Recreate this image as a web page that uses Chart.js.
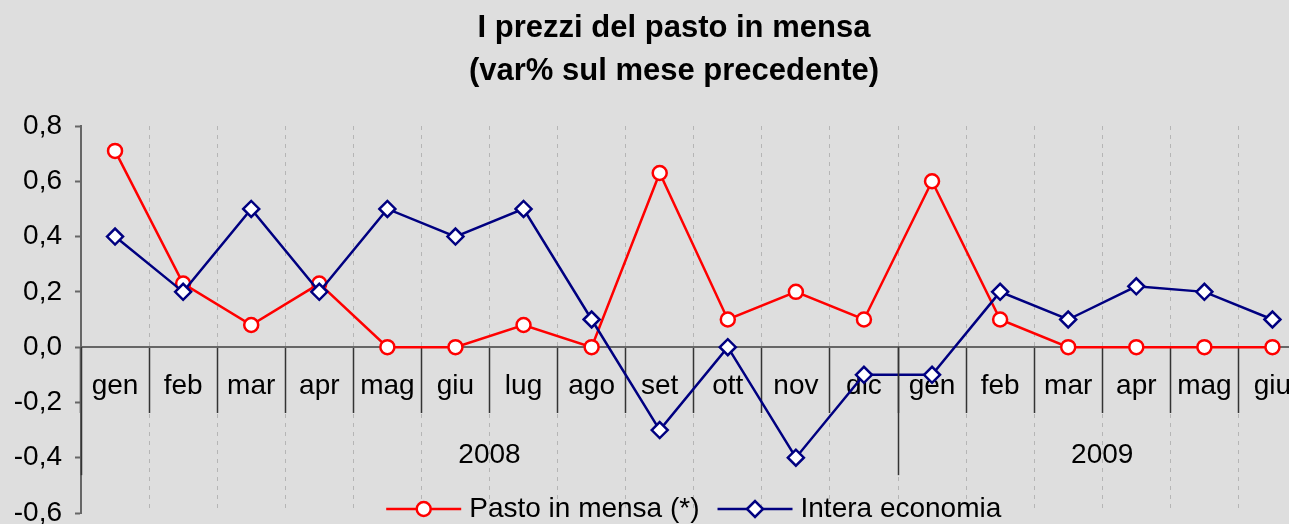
<!DOCTYPE html>
<html><head><meta charset="utf-8">
<script src="https://cdn.jsdelivr.net/npm/chart.js@4"></script>
<style>
html,body{margin:0;padding:0;overflow:hidden;background:#dedede;}
#wrap{width:1317px;height:524px;position:relative;}
</style></head>
<body><div id="wrap"><canvas id="c"></canvas></div>
<script>
// ---- data ----
const months = ['gen','feb','mar','apr','mag','giu','lug','ago','set','ott','nov','dic','gen','feb','mar','apr','mag','giu'];
const yearLabels = ['2008','2009'];
const yearSpans = [12, 6];
const pastoMensa = [0.71,0.23,0.08,0.23,0,0,0.08,0,0.63,0.1,0.2,0.1,0.6,0.1,0,0,0,0];
const interaEconomia = [0.4,0.2,0.5,0.2,0.5,0.4,0.5,0.1,-0.3,0,-0.4,-0.1,-0.1,0.2,0.1,0.22,0.2,0.1];
const seriesNames = ['Pasto in mensa (*)','Intera economia'];
const titleLines = ['I prezzi del pasto in mensa','(var% sul mese precedente)'];
const yMin = -0.6, yMax = 0.8, yStep = 0.2;

const FONT = "'Liberation Sans', Arial, sans-serif";
const RED = '#ff0000', NAVY = '#000080';

const titlePlugin = {
  id: 'titlePlugin',
  afterDraw(chart) {
    const ctx = chart.ctx;
    ctx.save();
    ctx.font = 'bold 31px ' + FONT;
    ctx.fillStyle = '#000';
    ctx.textAlign = 'center';
    ctx.textBaseline = 'middle';
    const cx = 674;
    titleLines.forEach((t, i) => ctx.fillText(t, cx, 28 + i * 43));
    ctx.restore();
  }
};

const yearPlugin = {
  id: 'yearPlugin',
  afterDraw(chart) {
    const ctx = chart.ctx, xs = chart.scales.x, ys = chart.scales.y;
    const half = (xs.getPixelForValue(1) - xs.getPixelForValue(0)) / 2;
    const y0 = ys.getPixelForValue(0);
    ctx.save();
    let start = 0;
    ctx.strokeStyle = '#333';
    ctx.lineWidth = 1.5;
    const bounds = [0];
    yearSpans.forEach((n, i) => {
      const end = start + n;
      const xl = xs.getPixelForValue(start) - half;
      const xr = xs.getPixelForValue(end - 1) + half;
      ctx.fillStyle = '#000';
      ctx.font = '28px ' + FONT;
      ctx.textAlign = 'center';
      ctx.textBaseline = 'middle';
      ctx.fillText(yearLabels[i], (xl + xr) / 2, y0 + 108);
      bounds.push(end);
      start = end;
    });
    bounds.forEach(b => {
      const x = Math.round((b < months.length ? xs.getPixelForValue(b) - half : xs.getPixelForValue(b - 1) + half)) + 0.5;
      ctx.beginPath();
      ctx.moveTo(x, y0);
      ctx.lineTo(x, y0 + 128);
      ctx.stroke();
    });
    ctx.restore();
  }
};

const legendPlugin = {
  id: 'legendPlugin',
  afterDraw(chart) {
    const ctx = chart.ctx, area = chart.chartArea;
    ctx.save();
    ctx.font = '28px ' + FONT;
    const lineLen = 75, gapText = 8, gapItem = 18;
    const items = chart.data.datasets.map(ds => ({ds, w: ctx.measureText(ds.label).width}));
    let total = 0;
    items.forEach((it, i) => { total += lineLen + gapText + it.w + (i ? gapItem : 0); });
    let x = (area.left + area.right) / 2 - total / 2;
    const y = 509;
    items.forEach((it, i) => {
      if (i) x += gapItem;
      const ds = it.ds;
      ctx.strokeStyle = ds.borderColor;
      ctx.lineWidth = ds.borderWidth;
      ctx.beginPath();
      ctx.moveTo(x, y); ctx.lineTo(x + lineLen, y); ctx.stroke();
      ctx.fillStyle = ds.pointBackgroundColor;
      ctx.strokeStyle = ds.pointBorderColor;
      ctx.lineWidth = ds.pointBorderWidth;
      Chart.helpers.drawPoint(ctx, {pointStyle: ds.pointStyle, radius: ds.pointRadius, borderWidth: ds.pointBorderWidth, rotation: 0}, x + lineLen / 2, y);
      ctx.fillStyle = '#000';
      ctx.textAlign = 'left';
      ctx.textBaseline = 'middle';
      ctx.fillText(ds.label, x + lineLen + gapText, y);
      x += lineLen + gapText + it.w;
    });
    ctx.restore();
  }
};

new Chart(document.getElementById('c'), {
  type: 'line',
  data: {
    labels: months,
    datasets: [
      {label: seriesNames[0], data: pastoMensa, borderColor: RED, borderWidth: 2.5,
       pointStyle: 'circle', pointRadius: 7, pointBorderWidth: 2.5, pointBorderColor: RED,
       pointBackgroundColor: '#ffffff', tension: 0, order: 1},
      {label: seriesNames[1], data: interaEconomia, borderColor: NAVY, borderWidth: 2.5,
       pointStyle: 'rectRot', pointRadius: 8, pointBorderWidth: 2.5, pointBorderColor: NAVY,
       pointBackgroundColor: '#ffffff', tension: 0, order: 0}
    ]
  },
  options: {
    responsive: true, maintainAspectRatio: false, animation: false,
    layout: {padding: {left: 0, right: 0, top: 126, bottom: 11}},
    plugins: {
      legend: {display: false},
      tooltip: {enabled: false},
      title: {display: false}
    },
    scales: {
      x: {
        type: 'category', offset: true, position: {y: 0},
        grid: {display: true, offset: true, drawOnChartArea: true, drawTicks: true,
          color: '#b5b5b5', lineWidth: 1, tickColor: '#333', tickWidth: 1.5,
          tickLength: 65, tickBorderDash: []},
        border: {display: true, color: '#666', width: 2, dash: [4, 5]},
        ticks: {autoSkip: false, maxRotation: 0, minRotation: 0, color: '#000',
          font: {family: FONT, size: 28}, padding: -43},
        afterFit: s => { s.paddingLeft = 0; s.paddingRight = 0; }
      },
      y: {
        min: yMin, max: yMax,
        grid: {drawOnChartArea: false, drawTicks: true, tickLength: 6, color: '#666', tickWidth: 2},
        border: {display: true, color: '#666', width: 2},
        ticks: {stepSize: yStep, color: '#000', padding: 13,
          font: {family: FONT, size: 28},
          callback: v => Number(v).toFixed(1).replace('.', ',')},
        afterFit: s => { s.width = 81; s.paddingBottom = 0; s.paddingTop = 0; }
      }
    }
  },
  plugins: [titlePlugin, yearPlugin, legendPlugin]
});
</script>
</body></html>
